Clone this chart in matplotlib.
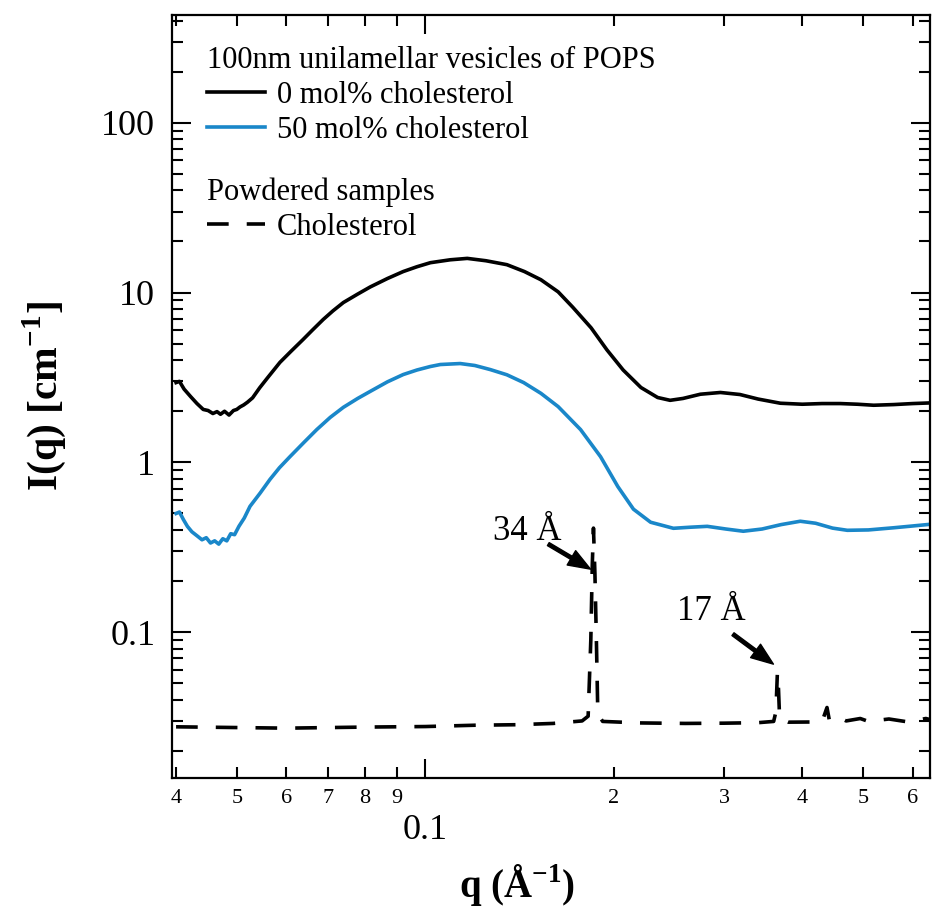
import numpy as np
from matplotlib import pyplot as plt
from matplotlib.ticker import LogLocator, FuncFormatter, NullFormatter

plt.rcParams["font.family"] = ["Liberation Serif", "DejaVu Serif"]
plt.rcParams["mathtext.fontset"] = "custom"
plt.rcParams["mathtext.rm"] = "Liberation Serif"
plt.rcParams["mathtext.bf"] = "Liberation Serif:bold"

# 100 nm vesicles, 0 mol% cholesterol
q_0chol = [0.0400, 0.0405, 0.0412, 0.0422, 0.0432, 0.0442, 0.0450, 0.0458, 0.0465,
           0.0471, 0.0478, 0.0486, 0.0494, 0.0500, 0.0506, 0.0513, 0.0520, 0.0530,
           0.0544, 0.0560, 0.0586, 0.0610, 0.0638, 0.0660, 0.0687, 0.0712, 0.0740,
           0.0780, 0.0817, 0.0870, 0.0922, 0.0970, 0.1019, 0.1096, 0.1167, 0.1250,
           0.1350, 0.1440, 0.1530, 0.1630, 0.1720, 0.1840, 0.1950, 0.2070, 0.2210,
           0.2350, 0.2460, 0.2580, 0.2750, 0.2960, 0.3180, 0.3400, 0.3690, 0.4000,
           0.4300, 0.4600, 0.4900, 0.5200, 0.5600, 0.6000, 0.6410]
I_0chol = [2.95, 3.00, 2.70, 2.44, 2.22, 2.05, 2.02, 1.94, 1.99,
           1.92, 2.00, 1.90, 2.02, 2.05, 2.12, 2.18, 2.26, 2.40,
           2.75, 3.15, 3.88, 4.50, 5.29, 6.00, 6.94, 7.80, 8.74,
           9.80, 10.8, 12.1, 13.3, 14.2, 15.0, 15.6, 15.9, 15.4,
           14.6, 13.3, 11.9, 10.1, 8.2, 6.2, 4.6, 3.5, 2.76,
           2.41, 2.32, 2.38, 2.52, 2.58, 2.51, 2.36, 2.23, 2.20,
           2.22, 2.22, 2.20, 2.17, 2.19, 2.22, 2.24]

# 100 nm vesicles, 50 mol% cholesterol
q_50chol = [0.0400, 0.0405, 0.0411, 0.0417, 0.0424, 0.0433, 0.0440, 0.0447, 0.0454,
            0.0461, 0.0468, 0.0475, 0.0482, 0.0489, 0.0496, 0.0504, 0.0514, 0.0525,
            0.0545, 0.0565, 0.0585, 0.0608, 0.0640, 0.0671, 0.0705, 0.0740, 0.0780,
            0.0817, 0.0870, 0.0922, 0.0970, 0.1019, 0.1057, 0.1137, 0.1200, 0.1270,
            0.1350, 0.1436, 0.1530, 0.1630, 0.1770, 0.1905, 0.2030, 0.2150, 0.2290,
            0.2490, 0.2650, 0.2820, 0.3020, 0.3220, 0.3450, 0.3700, 0.3970, 0.4200,
            0.4470, 0.4720, 0.5100, 0.5600, 0.6000, 0.6410]
I_50chol = [0.500, 0.510, 0.460, 0.420, 0.390, 0.367, 0.350, 0.360, 0.335,
            0.345, 0.330, 0.355, 0.345, 0.380, 0.375, 0.420, 0.470, 0.551,
            0.660, 0.794, 0.930, 1.08, 1.31, 1.56, 1.84, 2.11, 2.38,
            2.62, 2.98, 3.29, 3.50, 3.67, 3.77, 3.82, 3.72, 3.52,
            3.28, 2.95, 2.55, 2.13, 1.56, 1.08, 0.720, 0.530, 0.444,
            0.409, 0.415, 0.420, 0.405, 0.393, 0.405, 0.430, 0.450, 0.438,
            0.410, 0.398, 0.400, 0.412, 0.422, 0.432]

# powdered cholesterol
q_powder = [0.0400, 0.0600, 0.0800, 0.1000, 0.1200, 0.1400, 0.1600, 0.1780, 0.1820,
            0.1838, 0.1848, 0.1856, 0.1866, 0.1876, 0.1886, 0.1920, 0.2200, 0.2600,
            0.3000, 0.3400, 0.3600, 0.3630, 0.3650, 0.3665, 0.3680, 0.3800, 0.4300,
            0.4380, 0.4420, 0.4600, 0.4700, 0.4950, 0.5100, 0.5500, 0.5900, 0.6300,
            0.6410]
I_powder = [0.0277, 0.0272, 0.0276, 0.0278, 0.0283, 0.0285, 0.0290, 0.0300, 0.0320,
            0.090, 0.250, 0.410, 0.220, 0.090, 0.033, 0.0298, 0.0292, 0.0290,
            0.0291, 0.0293, 0.0298, 0.0340, 0.0580, 0.0460, 0.0310, 0.0295, 0.0296,
            0.0360, 0.0300, 0.0312, 0.0300, 0.0310, 0.0298, 0.0308, 0.0296, 0.0310,
            0.0305]

peak_labels = ["34 Å", "17 Å"]
peak_text_pos = [(0.1456, 0.393), (0.2865, 0.133)]
peak_arrow_tail = [(0.1572, 0.33), (0.310, 0.0973)]
peak_arrow_tip = [(0.1836, 0.235), (0.3597, 0.0648)]

blue = "#1a87c9"

fig = plt.figure(figsize=(9.32, 9.14), dpi=100)
ax = fig.add_axes([0.1845, 0.1488, 0.8135, 0.8348])

l0, = ax.plot(q_0chol, I_0chol, color="black", lw=2.6)
l50, = ax.plot(q_50chol, I_50chol, color=blue, lw=2.6)
lp, = ax.plot(q_powder, I_powder, color="black", lw=2.6, dashes=(6, 5))

ax.set_xscale("log")
ax.set_yscale("log")
ax.set_xlim(0.0394, 0.64)
ax.set_ylim(10 ** -1.859, 10 ** 2.635)

# ticks
ax.xaxis.set_major_locator(LogLocator(base=10, numticks=10))
ax.xaxis.set_minor_locator(LogLocator(base=10, subs=np.arange(2, 10), numticks=10))
ax.xaxis.set_major_formatter(FuncFormatter(lambda v, p: "%g" % v))
ax.xaxis.set_minor_formatter(FuncFormatter(lambda v, p: "%d" % round(v / 10 ** np.floor(np.log10(v) + 1e-9))))
ax.yaxis.set_major_locator(LogLocator(base=10, numticks=10))
ax.yaxis.set_minor_locator(LogLocator(base=10, subs=np.arange(2, 10), numticks=10))
ax.yaxis.set_major_formatter(FuncFormatter(lambda v, p: "%g" % v))
ax.yaxis.set_minor_formatter(NullFormatter())

ax.tick_params(which="both", direction="in", top=True, right=True, width=1.5, colors="black")
ax.tick_params(which="major", length=14)
ax.tick_params(which="minor", length=8)
ax.tick_params(axis="y", which="major", labelsize=26, pad=12)
ax.tick_params(axis="x", which="major", labelsize=26, pad=26)
ax.tick_params(axis="x", which="minor", labelsize=16, pad=8)
for s in ax.spines.values():
    s.set_linewidth(1.6)

ax.set_xlabel("q (Å$^{\\mathbf{-1}}$)", fontsize=28, fontweight="bold")
ax.xaxis.set_label_coords(0.455, -0.11)
ax.set_ylabel("I(q) [cm$^{\\mathbf{-1}}$]", fontsize=30, fontweight="bold", labelpad=24)

# legends
leg_kw = dict(title_fontsize=22, fontsize=22, loc="upper left", frameon=False,
              borderpad=0, borderaxespad=0, handlelength=1.9, handletextpad=0.4,
              labelspacing=0.2, alignment="left")
leg1 = ax.legend([l0, l50], ["0 mol% cholesterol", "50 mol% cholesterol"],
                 title="100nm unilamellar vesicles of POPS",
                 bbox_to_anchor=(0.046, 0.960), **leg_kw)
ax.add_artist(leg1)
ax.legend([lp], ["Cholesterol"], title="Powdered samples",
          bbox_to_anchor=(0.046, 0.787), **leg_kw)

# peak annotations
for lab, pos, tail, tip in zip(peak_labels, peak_text_pos, peak_arrow_tail, peak_arrow_tip):
    ax.text(pos[0], pos[1], lab, fontsize=25, ha="center", va="center")
    ax.annotate("", xy=tip, xytext=tail,
                arrowprops=dict(facecolor="black", edgecolor="black", width=2.5,
                                headwidth=12, headlength=16, shrink=0))

fig.savefig("out.png", dpi=100)
